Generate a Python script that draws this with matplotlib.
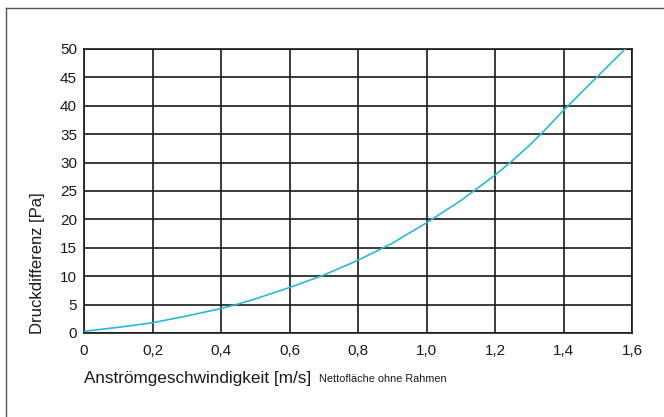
import numpy as np
import matplotlib.pyplot as plt
from matplotlib.lines import Line2D

plt.rcParams['font.family'] = ['Liberation Sans', 'DejaVu Sans']

# Druckdifferenz über Anströmgeschwindigkeit
velocity = [0.0, 0.1, 0.2, 0.3, 0.4, 0.45, 0.5, 0.6, 0.7, 0.8, 0.9, 1.0,
            1.1, 1.2, 1.25, 1.3, 1.35, 1.4, 1.45, 1.5, 1.55, 1.58]
pressure = [0.3, 1.0, 1.8, 3.0, 4.3, 5.1, 6.0, 8.0, 10.2, 12.8, 15.8, 19.4,
            23.3, 27.8, 30.3, 33.0, 36.0, 39.2, 42.2, 45.2, 48.2, 50.0]

x_ticks = [0, 0.2, 0.4, 0.6, 0.8, 1.0, 1.2, 1.4, 1.6]
x_labels = ['0', '0,2', '0,4', '0,6', '0,8', '1,0', '1,2', '1,4', '1,6']
y_ticks = [0, 5, 10, 15, 20, 25, 30, 35, 40, 45, 50]

W, H = 664, 417
fig = plt.figure(figsize=(W / 100, H / 100), dpi=100)
ax = fig.add_axes([84 / W, 1 - 333 / H, (632 - 84) / W, (333 - 49) / H])

ax.plot(velocity, pressure, color='#2bb8d6', lw=1.2, zorder=3)

ax.set_xlim(0, 1.6)
ax.set_ylim(0, 50)
ax.set_xticks(x_ticks)
ax.set_xticklabels(x_labels)
ax.set_yticks(y_ticks)
ax.grid(True, color='#1a1a1a', lw=1.2)
ax.set_axisbelow(True)
for sp in ax.spines.values():
    sp.set_color('#1a1a1a')
    sp.set_linewidth(1.2)
ax.tick_params(length=0, labelsize=11, colors='#1a1a1a')
ax.tick_params(axis='x', pad=8)
ax.tick_params(axis='y', pad=5)

fig.text(38 / W, 1 - 334 / H, 'Druckdifferenz [Pa]', rotation=90,
         fontsize=12, color='#1a1a1a', va='bottom', ha='center')

fig.text(84 / W, 1 - 378 / H, 'Anströmgeschwindigkeit [m/s]',
         fontsize=12.3, color='#1a1a1a', va='center', ha='left')
fig.text(319 / W, 1 - 379 / H, 'Nettofläche ohne Rahmen',
         fontsize=7.8, color='#1a1a1a', va='center', ha='left')

# outer frame (top and left only)
fig.add_artist(Line2D([6 / W, 1], [1 - 8 / H, 1 - 8 / H],
                      transform=fig.transFigure, color='#555555', lw=1))
fig.add_artist(Line2D([6 / W, 6 / W], [0, 1 - 8 / H],
                      transform=fig.transFigure, color='#555555', lw=1))

fig.savefig('out.png', dpi=100)
